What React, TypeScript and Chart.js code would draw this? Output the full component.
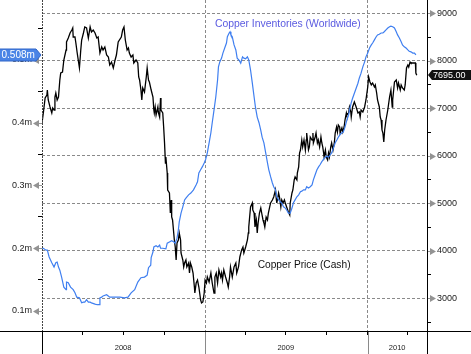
import React, { useEffect, useRef } from 'react';
import { Chart, registerables } from 'chart.js';

Chart.register(...registerables);

const FONT = '"Liberation Sans", Arial, Helvetica, sans-serif';
const W = 471;
const H = 354;

// x axis: days since 1 Jan 2008
const X_MIN = 0;
const X_MAX = 864;
const quarterDays = [0, 91, 182, 274, 366, 456, 547, 639, 731, 821];
const yearBoundaryDays = [366, 731];
const yearLabelDays = [182, 547, 797];
const yearLabels = ['2008', '2009', '2010'];

// left axis (inventories, million tonnes)
const LEFT_MIN = 0.0681;
const LEFT_MAX = 0.5956;
const leftTickValues = [0.1, 0.15, 0.2, 0.25, 0.3, 0.35, 0.4, 0.45, 0.5, 0.55];
const leftMajorTicks = [0.1, 0.2, 0.3, 0.4, 0.5];

// right axis (copper price, USD)
const RIGHT_MIN = 2312;
const RIGHT_MAX = 9280;
const rightTickValues = [2500, 3000, 3500, 4000, 4500, 5000, 5500, 6000, 6500, 7000, 7500, 8000, 8500, 9000];
const rightMajorTicks = [3000, 4000, 5000, 6000, 7000, 8000, 9000];

const priceDays = [
  0, 3, 7, 11, 12, 14, 18, 22, 24, 27,
  29, 31, 34, 37, 40, 42, 46, 49, 54, 55,
  59, 63, 67, 69, 70, 74, 76, 79, 84, 87,
  89, 93, 96, 100, 104, 108, 111, 115, 119, 123,
  126, 130, 134, 137, 141, 145, 149, 152, 156, 160,
  164, 167, 171, 178, 181, 184, 187, 191, 194, 196,
  200, 204, 206, 211, 215, 217, 219, 222, 224, 226,
  230, 234, 236, 239, 241, 245, 249, 251, 252, 254,
  256, 260, 261, 264, 266, 267, 271, 273, 275, 277,
  278, 281, 282, 286, 288, 290, 291, 293, 297, 299,
  301, 303, 306, 308, 311, 312, 316, 318, 320, 323,
  325, 329, 331, 333, 336, 339, 342, 343, 346, 349,
  352, 356, 358, 361, 364, 366, 369, 371, 375, 379,
  382, 386, 388, 391, 394, 397, 401, 403, 405, 408,
  412, 416, 418, 421, 423, 427, 431, 435, 437, 441,
  444, 448, 451, 453, 457, 461, 463, 464, 468, 472,
  473, 476, 478, 481, 483, 485, 488, 491, 493, 496,
  498, 500, 503, 506, 508, 511, 513, 517, 520, 524,
  526, 527, 531, 533, 536, 538, 541, 544, 546, 549,
  553, 556, 557, 561, 563, 566, 568, 572, 573, 576,
  578, 580, 583, 585, 588, 591, 593, 594, 598, 600,
  602, 606, 608, 609, 613, 615, 618, 620, 623, 626,
  628, 630, 632, 633, 636, 638, 641, 643, 645, 648,
  650, 653, 656, 658, 661, 663, 665, 668, 669, 673,
  675, 678, 680, 683, 684, 688, 690, 693, 694, 697,
  701, 705, 709, 712, 714, 716, 720, 724, 727, 731,
  733, 736, 739, 742, 746, 748, 751, 753, 757, 759,
  761, 763, 765, 767, 769, 772, 776, 780, 783, 786,
  787, 791, 795, 798, 800, 804, 806, 809, 813, 815,
  818, 821, 823, 826, 828, 832, 836, 838, 839, 841,
];

const priceUsd = [
  6691, 6901, 7217, 7280, 7385, 7175, 7028, 6901, 7007, 6964,
  7238, 7322, 7175, 7238, 7596, 7743, 7764, 8017, 8227, 8396,
  8480, 8585, 8648, 8691, 8501, 8501, 8375, 8164, 7849, 8227,
  8438, 8585, 8712, 8691, 8480, 8712, 8606, 8648, 8585, 8480,
  8501, 8164, 8291, 8227, 8291, 8122, 8080, 7912, 7975, 7849,
  8017, 8122, 8396, 8501, 8648, 8712, 8438, 8227, 8270, 8164,
  8080, 8122, 7954, 8017, 7954, 7659, 7596, 7385, 7175, 7428,
  7343, 7659, 7849, 7596, 7554, 7385, 7238, 6964, 6901, 7028,
  6859, 7028, 6922, 6817, 7217, 6964, 6901, 6607, 6270, 5849,
  5975, 5638, 5281, 5218, 4796, 5070, 4712, 4649, 4228, 4081,
  3807, 4165, 4228, 4375, 4228, 3954, 3807, 3660, 3744, 3807,
  3660, 3744, 3533, 3744, 3660, 3533, 3238, 3112, 3322, 3385,
  3238, 2965, 2902, 2923, 3112, 3385, 3322, 3449, 3343, 3533,
  3322, 3112, 3449, 3533, 3322, 3596, 3449, 3533, 3385, 3596,
  3449, 3322, 3238, 3449, 3660, 3449, 3660, 3744, 3533, 3660,
  3870, 4018, 4081, 3954, 4081, 4228, 4375, 4502, 4923, 5007,
  4860, 4796, 4502, 4649, 4375, 4586, 4796, 4902, 4796, 4649,
  4586, 4502, 4712, 4649, 4796, 4923, 5007, 5070, 5133, 5281,
  5070, 5007, 5218, 5133, 4923, 5070, 5007, 5070, 5007, 4923,
  4817, 4754, 5007, 5218, 5281, 5492, 5555, 5492, 5638, 5765,
  6059, 6122, 6333, 6186, 6333, 6122, 6333, 6480, 6122, 6186,
  6396, 6333, 6480, 6270, 6396, 6480, 6270, 6333, 6186, 6396,
  6270, 6186, 6059, 5975, 6122, 5975, 5912, 6059, 5975, 6186,
  6270, 6122, 6270, 6480, 6607, 6501, 6648, 6607, 6480, 6586,
  6501, 6607, 6754, 6901, 6859, 6901, 7028, 6922, 6817, 7028,
  7133, 7028, 6901, 6922, 6817, 6964, 6922, 7028, 7175, 7449,
  7659, 7554, 7491, 7533, 7449, 7491, 7322, 7175, 7028, 6817,
  6754, 6544, 6480, 6291, 6544, 6754, 6964, 7238, 7385, 7028,
  7175, 7554, 7596, 7428, 7533, 7385, 7491, 7428, 7385, 7491,
  7849, 7912, 7870, 7975, 7954, 7954, 7954, 7954, 7743, 7695,
];

const inventoryDays = [
  0, 3, 9, 12, 16, 22, 27, 31, 34, 37,
  40, 44, 49, 54, 55, 59, 64, 70, 74, 78,
  84, 89, 93, 96, 100, 104, 108, 111, 119, 124,
  128, 130, 134, 137, 145, 152, 160, 167, 175, 185,
  193, 200, 208, 215, 222, 230, 236, 239, 244, 245,
  249, 251, 256, 260, 264, 266, 271, 278, 281, 286,
  291, 296, 299, 303, 306, 308, 312, 316, 320, 323,
  329, 334, 340, 346, 349, 352, 356, 360, 364, 367,
  371, 375, 379, 382, 386, 390, 394, 396, 399, 403,
  406, 411, 414, 416, 420, 422, 424, 427, 431, 435,
  438, 442, 446, 450, 453, 457, 461, 464, 468, 472,
  476, 479, 483, 487, 491, 494, 498, 502, 506, 509,
  513, 517, 520, 524, 527, 531, 535, 538, 542, 546,
  549, 553, 557, 561, 564, 568, 572, 576, 580, 583,
  587, 591, 594, 598, 602, 606, 609, 613, 617, 621,
  624, 628, 632, 636, 639, 643, 647, 650, 654, 658,
  662, 665, 669, 673, 676, 680, 684, 688, 690, 694,
  697, 701, 705, 709, 712, 716, 720, 724, 727, 731,
  735, 739, 742, 746, 750, 753, 757, 761, 765, 768,
  772, 776, 780, 783, 787, 791, 795, 798, 802, 806,
  809, 813, 817, 821, 824, 828, 832, 836, 839,
];

const inventoryMt = [
  0.200, 0.200, 0.197, 0.197, 0.186, 0.177, 0.170, 0.177, 0.178, 0.170,
  0.165, 0.154, 0.138, 0.134, 0.146, 0.145, 0.138, 0.134, 0.129, 0.122,
  0.121, 0.113, 0.114, 0.114, 0.118, 0.114, 0.114, 0.113, 0.111, 0.110,
  0.110, 0.121, 0.122, 0.124, 0.126, 0.122, 0.122, 0.122, 0.122, 0.121,
  0.122, 0.129, 0.134, 0.146, 0.153, 0.154, 0.157, 0.169, 0.173, 0.185,
  0.194, 0.202, 0.204, 0.202, 0.205, 0.200, 0.200, 0.199, 0.208, 0.210,
  0.212, 0.210, 0.208, 0.216, 0.229, 0.242, 0.256, 0.266, 0.277, 0.280,
  0.285, 0.288, 0.293, 0.301, 0.306, 0.320, 0.325, 0.330, 0.336, 0.341,
  0.352, 0.368, 0.384, 0.400, 0.420, 0.441, 0.468, 0.489, 0.497, 0.503,
  0.511, 0.521, 0.527, 0.537, 0.543, 0.545, 0.540, 0.537, 0.524, 0.516,
  0.503, 0.500, 0.495, 0.505, 0.503, 0.502, 0.505, 0.500, 0.484, 0.463,
  0.441, 0.425, 0.409, 0.400, 0.388, 0.377, 0.368, 0.352, 0.336, 0.325,
  0.314, 0.304, 0.298, 0.293, 0.282, 0.277, 0.274, 0.272, 0.266, 0.264,
  0.261, 0.256, 0.256, 0.264, 0.272, 0.277, 0.282, 0.285, 0.290, 0.291,
  0.293, 0.293, 0.298, 0.296, 0.298, 0.301, 0.309, 0.317, 0.325, 0.330,
  0.333, 0.338, 0.342, 0.345, 0.347, 0.345, 0.349, 0.352, 0.360, 0.368,
  0.373, 0.377, 0.381, 0.384, 0.385, 0.393, 0.404, 0.412, 0.420, 0.432,
  0.439, 0.447, 0.455, 0.463, 0.471, 0.479, 0.489, 0.497, 0.505, 0.511,
  0.519, 0.524, 0.527, 0.532, 0.537, 0.540, 0.541, 0.543, 0.543, 0.545,
  0.548, 0.551, 0.553, 0.554, 0.553, 0.551, 0.545, 0.540, 0.535, 0.529,
  0.524, 0.521, 0.519, 0.516, 0.514, 0.513, 0.511, 0.511, 0.508,
];

const inventoryLabel = 'Copper Inventories (Worldwide)';
const priceLabel = 'Copper Price (Cash)';
const inventoryLabelAt = { day: 388, usd: 8770 };
const priceLabelAt = { day: 484, usd: 3700 };

const isLeftMajor = (v: number) => leftMajorTicks.some((m) => Math.abs(m - v) < 1e-9);
const isRightMajor = (v: number) => rightMajorTicks.includes(v);

const zeroPad = (s: any) => {
  s.paddingLeft = 0;
  s.paddingRight = 0;
  s.paddingTop = 0;
  s.paddingBottom = 0;
};

const overlayPlugin = {
  id: 'overlay',
  afterDraw(chart: any) {
    const ctx: CanvasRenderingContext2D = chart.ctx;
    const { left, right, bottom } = chart.chartArea;
    const xs = chart.scales.x;
    const yl = chart.scales.yL;
    const yr = chart.scales.yR;
    const line = (x1: number, y1: number, x2: number, y2: number) => {
      ctx.beginPath();
      ctx.moveTo(x1, y1);
      ctx.lineTo(x2, y2);
      ctx.stroke();
    };
    ctx.save();
    ctx.lineWidth = 1;
    // left axis (dotted) inside plot
    ctx.setLineDash([2, 1]);
    ctx.strokeStyle = '#444';
    line(left + 0.5, 0, left + 0.5, bottom);
    ctx.setLineDash([]);
    ctx.strokeStyle = '#000';
    line(0, bottom + 0.5, W, bottom + 0.5);
    line(right + 0.5, 0, right + 0.5, H);
    line(left + 0.5, bottom, left + 0.5, H);
    ctx.strokeStyle = '#8a8a8a';
    yearBoundaryDays.forEach((d) => {
      const x = Math.round(xs.getPixelForValue(d)) + 0.5;
      line(x, bottom + 1, x, H);
    });

    // tick arrows
    ctx.fillStyle = '#939393';
    ctx.strokeStyle = '#939393';
    leftMajorTicks.forEach((v) => {
      const y = Math.round(yl.getPixelForValue(v)) + 0.5;
      ctx.beginPath();
      ctx.moveTo(left - 9, y);
      ctx.lineTo(left - 3, y - 3.5);
      ctx.lineTo(left - 3, y + 3.5);
      ctx.closePath();
      ctx.fill();
      line(left - 4, y, left, y);
    });
    rightMajorTicks.forEach((v) => {
      const y = Math.round(yr.getPixelForValue(v)) + 0.5;
      ctx.beginPath();
      ctx.moveTo(right + 9, y);
      ctx.lineTo(right + 3, y - 3.5);
      ctx.lineTo(right + 3, y + 3.5);
      ctx.closePath();
      ctx.fill();
      line(right + 1, y, right + 4, y);
    });

    // last value boxes
    const lastInv = inventoryMt[inventoryMt.length - 1];
    const lastPrice = priceUsd[priceUsd.length - 1];
    const yi = Math.round(yl.getPixelForValue(lastInv));
    ctx.fillStyle = '#4a84e6';
    ctx.strokeStyle = '#2f64c8';
    ctx.beginPath();
    ctx.moveTo(-2, yi - 6);
    ctx.lineTo(left - 6, yi - 6);
    ctx.lineTo(left - 1, yi);
    ctx.lineTo(left - 6, yi + 6);
    ctx.lineTo(-2, yi + 6);
    ctx.closePath();
    ctx.fill();
    ctx.stroke();
    ctx.fillStyle = '#ffffff';
    ctx.font = `10px ${FONT}`;
    ctx.textBaseline = 'middle';
    ctx.textAlign = 'left';
    ctx.fillText(lastInv.toFixed(3) + 'm', 1.5, yi + 0.5);

    const yp = Math.round(yr.getPixelForValue(lastPrice));
    ctx.fillStyle = '#111111';
    ctx.beginPath();
    ctx.moveTo(right + 1, yp);
    ctx.lineTo(right + 5, yp - 5);
    ctx.lineTo(W, yp - 5);
    ctx.lineTo(W, yp + 5);
    ctx.lineTo(right + 5, yp + 5);
    ctx.closePath();
    ctx.fill();
    ctx.fillStyle = '#ffffff';
    ctx.font = `9px ${FONT}`;
    ctx.fillText(lastPrice.toFixed(2), right + 6, yp + 0.5);

    // series captions
    ctx.font = `10.4px ${FONT}`;
    ctx.fillStyle = '#5a5ae0';
    ctx.fillText(inventoryLabel, xs.getPixelForValue(inventoryLabelAt.day), yr.getPixelForValue(inventoryLabelAt.usd));
    ctx.font = `10.2px ${FONT}`;
    ctx.fillStyle = '#111111';
    ctx.fillText(priceLabel, xs.getPixelForValue(priceLabelAt.day), yr.getPixelForValue(priceLabelAt.usd));
    ctx.restore();
  },
};

export default function App() {
  const canvasRef = useRef<HTMLCanvasElement | null>(null);

  useEffect(() => {
    document.body.style.margin = '0';
    const canvas = canvasRef.current;
    if (!canvas) return;
    const xTickValues = Array.from(new Set([...quarterDays, ...yearLabelDays])).sort((a, b) => a - b);

    const chart = new Chart(canvas, {
      type: 'line',
      data: {
        datasets: [
          {
            label: 'Copper Inventories (Worldwide)',
            data: inventoryDays.map((d, i) => ({ x: d, y: inventoryMt[i] })),
            yAxisID: 'yL',
            borderColor: '#3f7ff0',
            borderWidth: 1.2,
            pointRadius: 0,
            tension: 0,
            fill: false,
          },
          {
            label: 'Copper Price (Cash)',
            data: priceDays.map((d, i) => ({ x: d, y: priceUsd[i] })),
            yAxisID: 'yR',
            borderColor: '#000000',
            borderWidth: 1.3,
            pointRadius: 0,
            tension: 0,
            fill: false,
          },
        ],
      },
      options: {
        responsive: false,
        animation: false,
        devicePixelRatio: 1,
        layout: { padding: 0 },
        plugins: { legend: { display: false }, tooltip: { enabled: false }, title: { display: false } },
        scales: {
          x: {
            type: 'linear',
            min: X_MIN,
            max: X_MAX,
            position: 'bottom',
            afterBuildTicks: (s: any) => {
              s.ticks = xTickValues.map((v) => ({ value: v }));
            },
            afterFit: (s: any) => {
              s.height = H - 331;
              zeroPad(s);
            },
            border: { display: false, dash: [3, 2] },
            grid: {
              drawOnChartArea: true,
              drawTicks: true,
              tickLength: 4,
              borderDash: [3, 2],
              tickBorderDash: [],
              color: (c: any) => (c.tick && yearBoundaryDays.includes(c.tick.value) ? '#8a8a8a' : 'rgba(0,0,0,0)'),
              tickColor: (c: any) => (c.tick && quarterDays.includes(c.tick.value) ? '#000' : 'rgba(0,0,0,0)'),
            },
            ticks: {
              autoSkip: false,
              maxRotation: 0,
              padding: 8,
              color: '#222',
              font: { family: FONT, size: 7.5 },
              callback: (v: any) => {
                const i = yearLabelDays.indexOf(Number(v));
                return i >= 0 ? yearLabels[i] : '';
              },
            },
          },
          yL: {
            type: 'linear',
            position: 'left',
            min: LEFT_MIN,
            max: LEFT_MAX,
            afterBuildTicks: (s: any) => {
              s.ticks = leftTickValues.map((v) => ({ value: v }));
            },
            afterFit: (s: any) => {
              s.width = 42;
              zeroPad(s);
            },
            border: { display: false },
            grid: {
              drawOnChartArea: false,
              drawTicks: true,
              tickLength: 4,
              tickBorderDash: [],
              color: 'rgba(0,0,0,0)',
              tickColor: (c: any) => (c.tick && !isLeftMajor(c.tick.value) ? '#000' : 'rgba(0,0,0,0)'),
            },
            ticks: {
              autoSkip: false,
              padding: 6,
              color: '#222',
              font: { family: FONT, size: 9 },
              callback: (v: any) => (isLeftMajor(Number(v)) ? Number(v).toFixed(1) + 'm' : ''),
            },
          },
          yR: {
            type: 'linear',
            position: 'right',
            min: RIGHT_MIN,
            max: RIGHT_MAX,
            afterBuildTicks: (s: any) => {
              s.ticks = rightTickValues.map((v) => ({ value: v }));
            },
            afterFit: (s: any) => {
              s.width = W - 427;
              zeroPad(s);
            },
            border: { display: false, dash: [3, 2] },
            grid: {
              drawOnChartArea: true,
              drawTicks: true,
              tickLength: 4,
              borderDash: [3, 2],
              tickBorderDash: [],
              color: (c: any) => (c.tick && isRightMajor(c.tick.value) ? '#8a8a8a' : 'rgba(0,0,0,0)'),
              tickColor: (c: any) => (c.tick && !isRightMajor(c.tick.value) ? '#000' : 'rgba(0,0,0,0)'),
            },
            ticks: {
              autoSkip: false,
              padding: 6,
              color: '#222',
              font: { family: FONT, size: 9 },
              callback: (v: any) => (isRightMajor(Number(v)) ? String(v) : ''),
            },
          },
        },
      },
      plugins: [overlayPlugin],
    } as any);

    return () => chart.destroy();
  }, []);

  return (
    <div style={{ width: W, height: H, background: '#ffffff', position: 'relative' }}>
      <canvas ref={canvasRef} width={W} height={H} style={{ display: 'block', width: W, height: H }} />
    </div>
  );
}
